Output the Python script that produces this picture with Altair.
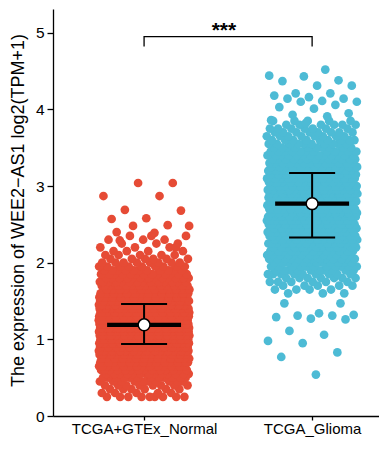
import altair as alt
import pandas as pd

groups = ["TCGA+GTEx_Normal", "TCGA_Glioma"]
colors = ["#E64B35", "#4DBBD5"]

# frequency table (value level -> number of samples)
normal_levels = [0.25, 0.30, 0.35, 0.40, 0.45, 0.50, 0.55, 0.60, 0.65, 0.70,
                 0.75, 0.80, 0.85, 0.90, 0.95, 1.00, 1.05, 1.10, 1.15, 1.20,
                 1.25, 1.30, 1.35, 1.40, 1.45, 1.50, 1.55, 1.60, 1.65, 1.70,
                 1.75, 1.80, 1.85, 1.90, 1.95, 2.00, 2.05, 2.10, 2.15, 2.20,
                 2.25, 2.30, 2.35, 2.40]
normal_counts = [9, 5, 6, 8, 10, 12, 15, 18, 22, 26,
                 30, 35, 39, 43, 47, 51, 54, 57, 58, 58,
                 57, 55, 52, 48, 44, 40, 36, 31, 27, 23,
                 19, 16, 13, 11, 9, 8, 6, 5, 4, 3,
                 3, 3, 3, 1]
normal_single = [3.04, 3.04, 2.87, 2.87, 2.69, 2.68, 2.58, 2.57, 2.49, 2.48,
                 2.48, 2.39, 2.29, 2.20]

glioma_levels = [1.60, 1.65, 1.70, 1.75, 1.80, 1.85, 1.90, 1.95, 2.00, 2.05,
                 2.10, 2.15, 2.20, 2.25, 2.30, 2.35, 2.40, 2.45, 2.50, 2.55,
                 2.60, 2.65, 2.70, 2.75, 2.80, 2.85, 2.90, 2.95, 3.00, 3.05,
                 3.10, 3.15, 3.20, 3.25, 3.30, 3.35, 3.40, 3.45, 3.50, 3.55,
                 3.60, 3.65, 3.70, 3.75, 3.80, 3.85]
glioma_counts = [3, 4, 5, 6, 7, 9, 10, 11, 12, 13,
                 13, 14, 15, 16, 17, 18, 18, 19, 19, 20,
                 20, 20, 21, 21, 21, 21, 20, 20, 20, 19,
                 19, 18, 17, 16, 15, 14, 13, 12, 10, 10,
                 9, 8, 8, 7, 6, 5]
glioma_single = [0.54, 0.77, 0.83, 0.95, 0.98, 1.06, 1.11, 1.26, 1.27, 1.29,
                 1.31, 1.31, 1.32, 1.34, 1.47, 1.47,
                 3.82, 3.86, 3.91, 3.93, 3.95, 4.01, 4.03, 4.06, 4.10, 4.10,
                 4.11, 4.14, 4.14, 4.16, 4.18, 4.21, 4.21, 4.31, 4.31, 4.37,
                 4.38, 4.43, 4.44, 4.52]

# summary (centre point and error bar ends)
centre = [1.19, 2.77]
lower = [0.94, 2.33]
upper = [1.46, 3.17]

stars = "***"
y_title = "The expression of WEE2\u2212AS1 log2(TPM+1)"

rows = []
for gi, (levels, counts, single) in enumerate(
        [(normal_levels, normal_counts, normal_single),
         (glioma_levels, glioma_counts, glioma_single)]):
    for lv, c in zip(levels, counts):
        for _ in range(c):
            rows.append({"group": groups[gi], "idx": gi + 1, "value": lv})
    for v in single:
        rows.append({"group": groups[gi], "idx": gi + 1, "value": v})
points_df = pd.DataFrame(rows)

summary_df = pd.DataFrame({"group": groups, "idx": [1, 2], "centre": centre,
                           "lower": lower, "upper": upper})
bracket_df = pd.DataFrame({"x": [1, 1, 2, 2], "y": [4.82, 4.95, 4.95, 4.82],
                           "o": [0, 1, 2, 3]})
stars_df = pd.DataFrame({"x": [1.475], "y": [4.95], "t": [stars]})

FONT = "Liberation Sans"
xscale = alt.Scale(domain=[0.458, 2.398], nice=False, zero=False)
yscale = alt.Scale(domain=[0, 5.31], nice=False, zero=True)
label_expr = f"datum.value == 1 ? '{groups[0]}' : '{groups[1]}'"

xaxis = alt.Axis(values=[1, 2], labelExpr=label_expr, title=None, grid=False,
                 labelPadding=1, tickSize=4, labelFontSize=15)
yaxis = alt.Axis(values=[0, 1, 2, 3, 4, 5], format="d", title=y_title,
                 grid=False, labelPadding=3, titlePadding=8, titleY=201)

pts = alt.Chart(points_df).transform_window(
    rn="row_number()", groupby=["group"]
).transform_calculate(
    xpos="datum.idx + ((datum.rn * 0.6180339887) % 1 - 0.5) * 0.54"
).mark_circle(size=76, opacity=1).encode(
    x=alt.X("xpos:Q", scale=xscale, axis=xaxis),
    y=alt.Y("value:Q", scale=yscale, axis=yaxis),
    color=alt.Color("group:N", scale=alt.Scale(domain=groups, range=colors),
                    legend=None),
)

base = alt.Chart(summary_df)
thick = base.transform_calculate(
    xa="datum.idx - 0.22", xb="datum.idx + 0.22"
).mark_rule(color="black", strokeWidth=4.2).encode(
    x="xa:Q", x2="xb:Q", y="centre:Q")
vline = base.mark_rule(color="black", strokeWidth=2).encode(
    x="idx:Q", y="lower:Q", y2="upper:Q")
cap_hi = base.transform_calculate(
    xa="datum.idx - 0.137", xb="datum.idx + 0.137"
).mark_rule(color="black", strokeWidth=2).encode(
    x="xa:Q", x2="xb:Q", y="upper:Q")
cap_lo = base.transform_calculate(
    xa="datum.idx - 0.137", xb="datum.idx + 0.137"
).mark_rule(color="black", strokeWidth=2).encode(
    x="xa:Q", x2="xb:Q", y="lower:Q")
dot = base.mark_circle(size=140, color="white", opacity=1, stroke="black",
                       strokeWidth=1.5).encode(x="idx:Q", y="centre:Q")

bracket = alt.Chart(bracket_df).mark_line(color="black", strokeWidth=1.3).encode(
    x="x:Q", y="y:Q", order="o:Q")
star_txt = alt.Chart(stars_df).mark_text(
    fontSize=21, fontWeight="bold", font=FONT, baseline="alphabetic",
    align="center", color="black").encode(x="x:Q", y="y:Q", text="t:N")

chart = alt.layer(pts, thick, vline, cap_hi, cap_lo, dot, bracket, star_txt).properties(
    width=326, height=407,
    padding={"left": 45, "top": 1, "right": 0, "bottom": 22},
    autosize=alt.AutoSizeParams(type="none"),
).configure_view(stroke=None).configure_axis(
    domainColor="black", domainWidth=1.3, tickColor="black", tickWidth=1.3,
    tickSize=6, labelFont=FONT, labelFontSize=15.5, labelColor="black",
    titleFont=FONT, titleFontSize=18, titleFontWeight="normal",
    titleColor="black",
)

chart.save("out.html", embed_options={"renderer": "svg", "actions": False})
